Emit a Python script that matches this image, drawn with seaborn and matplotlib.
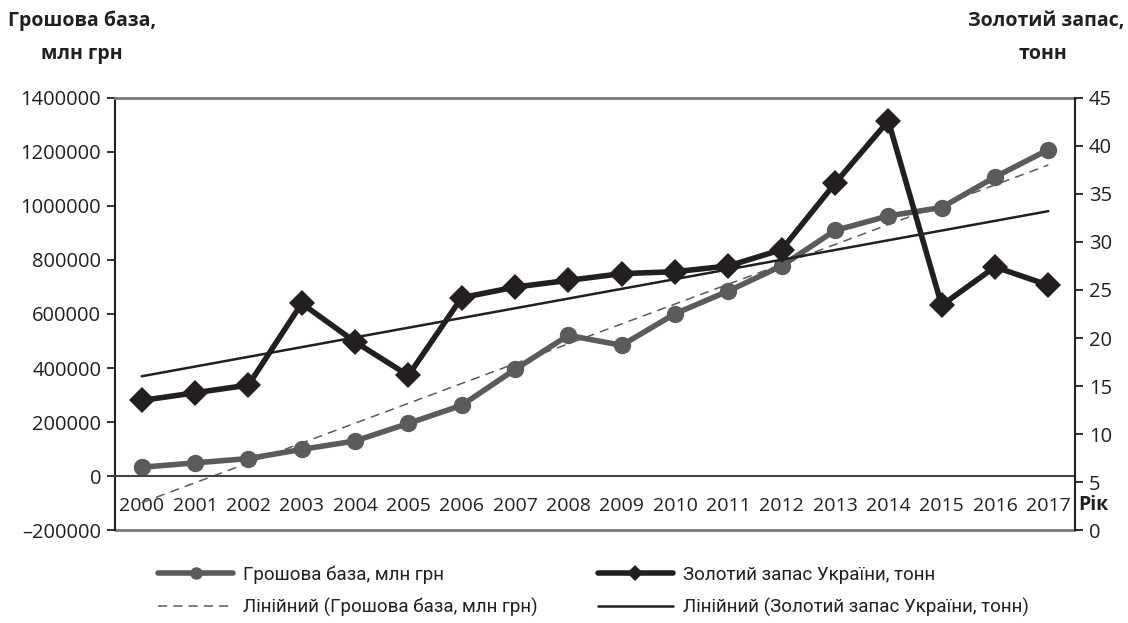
import numpy as np
import pandas as pd
import seaborn as sns
from matplotlib import pyplot as plt
from matplotlib.lines import Line2D
from matplotlib.ticker import FuncFormatter, MultipleLocator

years = [str(y) for y in range(2000, 2018)]
money_base = [33000, 49000, 65000, 99000, 130000, 195000, 262000, 395000, 521000,
              484000, 601000, 685000, 778000, 909000, 963000, 994000, 1107000, 1208000]
gold_reserve = [13.5, 14.3, 15.1, 23.6, 19.6, 16.1, 24.2, 25.3, 26.0,
                26.7, 26.9, 27.5, 29.2, 36.1, 42.6, 23.4, 27.4, 25.5]

labels = ['Грошова база, млн грн', 'Лінійний (Грошова база, млн грн)',
          'Золотий запас України, тонн', 'Лінійний (Золотий запас України, тонн)']

df = pd.DataFrame({'pos': range(len(years)), 'money': money_base, 'gold': gold_reserve})

sns.set_style('white')
plt.rcParams['font.family'] = ['Open Sans', 'DejaVu Sans']
txt = '#231f20'
gray = '#5b5b5d'
plt.rcParams['text.color'] = txt
plt.rcParams['xtick.color'] = txt
plt.rcParams['ytick.color'] = txt

fig = plt.figure(figsize=(11.28, 6.23), dpi=100)
ax = fig.add_axes([0.102, 0.149, 0.851, 0.694])
ax2 = ax.twinx()

# money base on left axis
sns.lineplot(data=df, x='pos', y='money', ax=ax, color=gray, lw=4,
             marker='o', markersize=12.5, markeredgewidth=0)
sns.regplot(data=df, x='pos', y='money', ax=ax, scatter=False, ci=None,
            line_kws=dict(color=gray, lw=1.1, ls=(0, (6, 4))))

# gold on right axis
sns.lineplot(data=df, x='pos', y='gold', ax=ax2, color=txt, lw=4,
             marker='D', markersize=13, markeredgewidth=0)
sns.regplot(data=df, x='pos', y='gold', ax=ax2, scatter=False, ci=None,
            line_kws=dict(color=txt, lw=1.8))

ax.set_xlim(-0.5, 17.5)
ax.set_ylim(-200000, 1400000)
ax2.set_ylim(0, 45)
for a in (ax, ax2):
    a.set_xlabel('')
    a.set_ylabel('')

ax.yaxis.set_major_locator(MultipleLocator(200000))
ax.yaxis.set_major_formatter(FuncFormatter(lambda v, p: f'{int(v)}'.replace('-', '\u2013')))
ax2.yaxis.set_major_locator(MultipleLocator(5))

ax.set_xticks(range(len(years)))
ax.set_xticklabels(years)
ax.set_xticks(np.arange(0.5, len(years) - 1, 1), minor=True)
ax.tick_params(axis='x', which='major', length=0, pad=15, labelsize=14)
ax.tick_params(axis='x', which='minor', direction='in', length=6, width=1.3, color='#444444')
ax.tick_params(axis='y', direction='out', length=6, width=1.3, labelsize=14.5, pad=4)
ax2.tick_params(axis='y', direction='out', length=6, width=1.3, labelsize=14.5, pad=4)

ax.spines['bottom'].set_position(('data', 0))
ax.spines['bottom'].set_color('#444444')
ax.spines['bottom'].set_linewidth(1.5)
ax.spines['top'].set_color('#7a7a7a')
ax.spines['top'].set_linewidth(2)
ax.spines['left'].set_color(txt)
ax.spines['left'].set_linewidth(1.5)
ax.spines['right'].set_visible(False)
for s in ('top', 'bottom', 'left'):
    ax2.spines[s].set_visible(False)
ax2.spines['right'].set_color(txt)
ax2.spines['right'].set_linewidth(1.5)
ax.axhline(-200000, color='#7a7a7a', lw=2, clip_on=False)

fig.text(82 / 1128, 1 - 21 / 623, 'Грошова база,', ha='center', va='center', weight='bold', fontsize=14)
fig.text(82 / 1128, 1 - 54 / 623, 'млн грн', ha='center', va='center', weight='bold', fontsize=14)
fig.text(1046 / 1128, 1 - 21 / 623, 'Золотий запас,', ha='center', va='center', weight='bold', fontsize=14)
fig.text(1043 / 1128, 1 - 54 / 623, 'тонн', ha='center', va='center', weight='bold', fontsize=14)
fig.text(1093 / 1128, 1 - 505 / 623, 'Рік', ha='center', va='center', weight='bold', fontsize=14)

handles = [Line2D([], [], color=gray, lw=4, marker='o', markersize=9, markeredgewidth=0),
           Line2D([], [], color=gray, lw=1.1, ls=(0, (6, 4))),
           Line2D([], [], color=txt, lw=4, marker='D', markersize=8, markeredgewidth=0),
           Line2D([], [], color=txt, lw=1.8)]
fig.legend(handles, labels, loc='upper left', bbox_to_anchor=(158 / 1128, 1 - 565 / 623),
           ncol=2, frameon=False, prop={'family': ['Roboto', 'DejaVu Sans'], 'size': 13.5},
           handlelength=4.0, handletextpad=0.55, columnspacing=3.2, labelspacing=0.78,
           borderpad=0, borderaxespad=0)

plt.savefig('out.png', dpi=100)
